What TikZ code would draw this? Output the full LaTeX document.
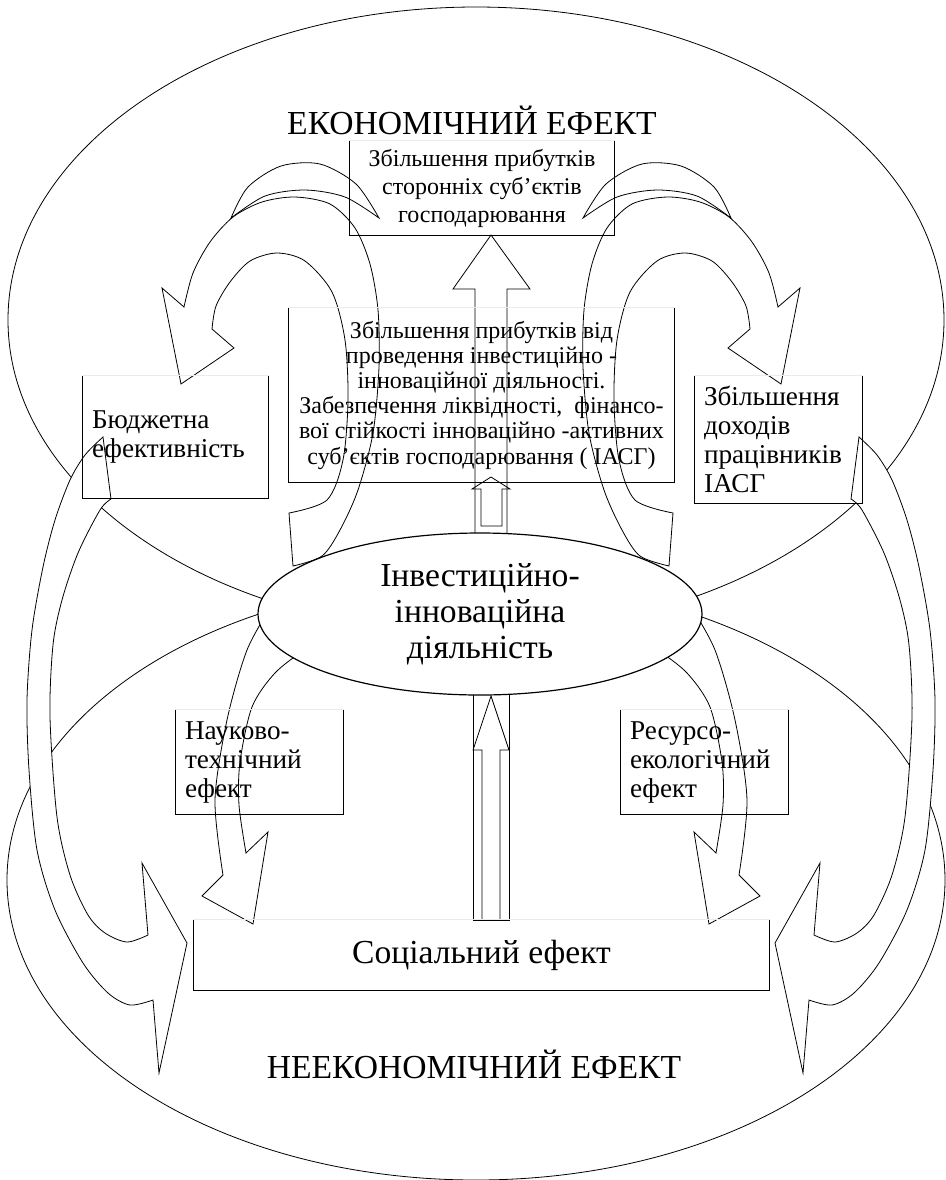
\documentclass[tikz,border=0pt]{standalone}
\usepackage{fontspec}
\setmainfont{Liberation Serif}
\usetikzlibrary{shapes.geometric,backgrounds}

\newcommand\txtsmall{\fontsize{12}{14}\selectfont}
\newcommand\txttight{\fontsize{12}{12.6}\selectfont}
\newcommand\txtmid{\fontsize{13.6}{14.5}\selectfont}
\newcommand\txtbig{\fontsize{16.8}{18}\selectfont}
\newcommand\txttitle{\fontsize{16.8}{19}\selectfont}

% three dark sides and a faint top for every text frame
\newcommand\framesides[1]{%
  \draw (#1.north west) -- (#1.south west) -- (#1.south east) -- (#1.north east);
  \draw[black!8] (#1.north west) -- (#1.north east);}

\tikzset{
  textframe/.style={inner xsep=4.5pt, inner ysep=0pt},
  bandshape/.style={draw, fill=white}
}

% curved arrows of the left half (drawn again mirrored for the right half)
\newcommand\sidearrows{%
  % side frame -> social effect, round the outer edge
  \draw[bandshape] plot[smooth] coordinates {(103,437) (85,455) (70,480) (55,520) (43,567) (32,630) (27,700) (29,770) (37,850) (55,910) (83,963) (108,993) (130,1005) (153,1000)}
    -- (159,1073) -- (187,943) -- (142,863) -- (148,935)
    -- plot[smooth] coordinates {(148,935) (127,942) (105,933) (88,915) (70,875) (57,817) (50,717) (53,645) (62,600) (78,553) (100,510) (111,499)}
    -- cycle;
  % activity -> side frame, over the top
  \draw[bandshape] plot[smooth] coordinates {(289,513) (327,500) (343,460) (348,400) (345,340) (332,292) (305,261) (277,253) (250,261) (230,282) (216,306) (212,329)}
    -- (234,348) -- (181,384) -- (162,288) -- (184,307)
    -- plot[smooth] coordinates {(184,307) (193,273) (210,242) (233,217) (262,202) (295,197) (330,204) (355,228) (370,264) (378,310) (379,367) (373,433) (358,490) (340,530) (322,556) (293,566)}
    -- cycle;
  % fold of that arrow
  \draw[bandshape] plot[smooth] coordinates {(231,218) (248,187) (281,166) (320,164) (356,184) (379,218)}
    -- plot[smooth] coordinates {(379,218) (345,197) (305,190) (265,196) (231,218)} -- cycle;
  % activity -> social effect, past the small frame
  \draw[bandshape] plot[smooth] coordinates {(272,605) (247,650) (227,720) (215,800) (223,875)}
    -- (202,896) -- (253,924) -- (268,832) -- (246,853)
    -- plot[smooth] coordinates {(246,853) (239,805) (240,762) (252,707) (275,673) (305,650) (330,640)}
    -- cycle;
}

\begin{document}
\begin{tikzpicture}[x=0.5pt, y=-0.5pt, line width=0.6pt]
  \useasboundingbox (0,0) rectangle (946,1180);

  % Titles of the two outer sets
  \node[font=\txttitle] (eco) at (472,120) {ЕКОНОМІЧНИЙ ЕФЕКТ};
  \node[font=\txttitle] (noneco) at (474,1064) {НЕЕКОНОМІЧНИЙ ЕФЕКТ};

  % Central activity
  \node[ellipse, draw, fill=white, inner sep=0pt, minimum width=222pt, minimum height=81pt,
        font=\txtbig, align=center] (inv) at (480,614) {Інвестиційно-\\інноваційна\\діяльність};

  % Frames
  \node[textframe, minimum width=132pt, minimum height=47pt, font=\txtsmall, align=center]
    (gain) at (482,188) {Збільшення прибутків\\сторонніх суб’єктів\\господарювання};
  \node[textframe, minimum width=192.5pt, minimum height=87pt, font=\txttight, align=center]
    (own) at (481.5,395) {Збільшення прибутків від\\проведення інвестиційно -\\інноваційної діяльності.\\Забезпечення ліквідності,~ фінансо-\\вої стійкості інноваційно -активних\\суб’єктів господарювання ( ІАСГ)};
  \node[textframe, text width=83.5pt, minimum height=61pt, font=\txtmid, align=left]
    (budget) at (175.5,437) {Бюджетна\\ефективність};
  \node[textframe, text width=74.5pt, minimum height=63.5pt, font=\txtmid, align=left]
    (wages) at (778.5,439.5) {Збільшення\\доходів\\працівників\\ІАСГ};
  \node[textframe, text width=74.5pt, minimum height=52pt, font=\txtmid, align=left]
    (tech) at (259.5,762) {Науково-\\технічний\\ефект};
  \node[textframe, text width=74.5pt, minimum height=52pt, font=\txtmid, align=left]
    (eco2) at (704.5,762) {Ресурсо-\\екологічний\\ефект};
  \node[textframe, minimum width=287.5pt, minimum height=35pt, font=\txtbig]
    (social) at (481.5,955) {Соціальний ефект};

  \framesides{gain}
  \framesides{own}
  \framesides{budget}
  \framesides{wages}
  \framesides{tech}
  \framesides{eco2}
  \framesides{social}

  \begin{scope}[on background layer]
    % Outer sets
    \draw (476,320) ellipse [x radius=234pt, y radius=156.5pt];
    \draw (476,880) ellipse [x radius=234.5pt, y radius=150pt];

    % Curved arrows, left half and its mirror image
    \sidearrows
    \begin{scope}[shift={(962,0)}, xscale=-1]
      \sidearrows
    \end{scope}

    % Straight arrows through the middle
    \draw (475,560) -- (475,289) -- (453,289) -- (491,235) -- (530,289) -- (507,289) -- (507,560);
    \draw (481,526) -- (481,489) -- (472,489) -- (491,477) -- (510,489) -- (502,489) -- (502,526) -- cycle;
    \draw (473,690) rectangle (509,920);
    \draw (482,920) -- (482,750) -- (473,750) -- (491,696) -- (509,750) -- (500,750) -- (500,920);
  \end{scope}

\end{tikzpicture}
\end{document}
